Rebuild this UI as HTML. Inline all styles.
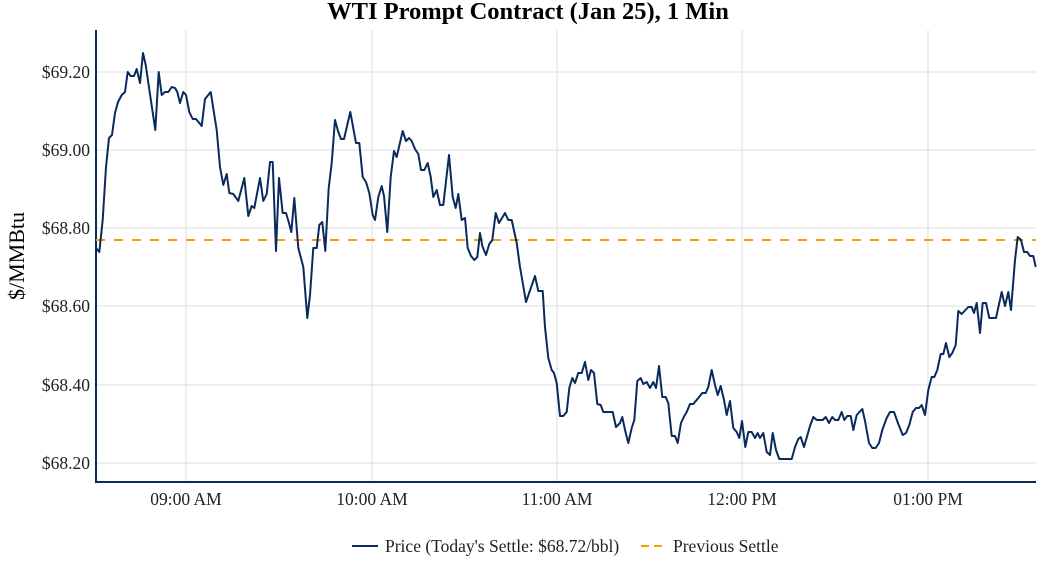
<!DOCTYPE html>
<html><head><meta charset="utf-8"><style>
html,body{margin:0;padding:0;background:#fff;}
svg{display:block;font-family:"Liberation Serif",serif;}
</style></head><body>
<svg width="1056" height="576" viewBox="0 0 1056 576">
<rect width="1056" height="576" fill="#fff"/>
<text x="528" y="19" text-anchor="middle" font-size="24.5" font-weight="bold" fill="#000">WTI Prompt Contract (Jan 25), 1 Min</text>
<g stroke="#dcdcdc" stroke-width="1">
<line x1="96" x2="1036" y1="72" y2="72"/><line x1="96" x2="1036" y1="150" y2="150"/>
<line x1="96" x2="1036" y1="228" y2="228"/><line x1="96" x2="1036" y1="306" y2="306"/>
<line x1="96" x2="1036" y1="385" y2="385"/><line x1="96" x2="1036" y1="463" y2="463"/>
<line x1="186" x2="186" y1="30" y2="482"/><line x1="372" x2="372" y1="30" y2="482"/>
<line x1="557" x2="557" y1="30" y2="482"/><line x1="742" x2="742" y1="30" y2="482"/>
<line x1="928" x2="928" y1="30" y2="482"/>
</g>
<line x1="96" x2="96" y1="30" y2="483" stroke="#0a2a5c" stroke-width="2"/>
<line x1="95" x2="1036" y1="482" y2="482" stroke="#0a2a5c" stroke-width="2"/>
<g font-size="17.5" fill="#222" text-anchor="end">
<text x="90" y="78">$69.20</text><text x="90" y="156">$69.00</text><text x="90" y="234">$68.80</text>
<text x="90" y="312">$68.60</text><text x="90" y="391">$68.40</text><text x="90" y="469">$68.20</text>
</g>
<g font-size="17.5" fill="#222" text-anchor="middle">
<text x="186" y="505">09:00 AM</text><text x="372" y="505">10:00 AM</text><text x="557" y="505">11:00 AM</text>
<text x="742" y="505">12:00 PM</text><text x="928" y="505">01:00 PM</text>
</g>
<text transform="translate(24,256) rotate(-90)" text-anchor="middle" font-size="22" fill="#000">$/MMBtu</text>
<line x1="96" x2="1036" y1="240" y2="240" stroke="#f5a000" stroke-width="2" stroke-dasharray="9,9"/>
<polyline fill="none" stroke="#0a2a5c" stroke-width="2" stroke-linejoin="round" points="96,248 99.3,252 102.7,220 106,167 109,138 112,135 115,113 118,102 121.7,95 125,92 127.7,72 130.7,76 134,76 136.7,69 140,83 143,53 145.7,65 155.3,130 158.7,72 161.7,95 165,92 168.3,92 171.7,87 175,88 177.3,92 180,103 183.3,92 186,95 189.3,112 192.7,119 196,119 201.7,126 205,99 210.7,92 216.7,130 220,167 223.3,185 226.7,174 229.3,193 233.3,194 238.3,201 244.3,178 248.3,216 251.7,206 254.3,208 260,178 263.3,201 266.7,194 270,162 272.7,162 276,251 279,178 282.7,213 286,213 288.7,222 291.3,232 294.3,198 298.3,248 303.3,267 307.3,318 310,295 313.3,248 316.7,248 319.3,225 322.3,222 325.3,251 328.7,188 331.7,163 335,120 338.3,132 341,139 344,139 350.3,112 356,143 359.3,143 362.7,177 366,182 369.3,193 372.7,215 375,220 378.3,197 381.7,186 384,196 387.3,232 390.7,177 394,151 396.7,157 402.7,131 406,141 409,138 411.7,141 415,149 418.3,154 421,170 424.3,170 427.7,163 430.7,177 433.3,197 436.7,190 440,205 443.3,205 449,155 452.7,197 455.7,208 458.3,194 461.7,220 465,218 467.7,248 471,256 474.3,260 477.3,257 480,233 482.3,246 486,255 489.3,244 492.3,240 495.7,213 499,223 505,213 508.3,220 511.7,220 516.7,243 520,267 526,302 535,276 538.3,291 542.7,291 545,327 548.3,358 551.7,370 554,373 556.7,383 560,416 563.3,416 566.7,412 569.3,388 572.3,378 575,383 578.3,373 581.7,373 585,362 588.3,380 591,370 594,373 597.3,404 600.7,405 603.3,412 612.7,412 616,427 620,423 622.3,417 625,430 628.3,443 631.7,428 634.3,420 637.3,381 640.7,378 643.3,384 646.7,382 650,388 653.3,382 656,388 659,366 662.3,397 665.7,397 668.3,403 671.7,436 675,436 677.7,443 681,423 684.3,416 686.7,412 690,404 693.3,404 698.3,398 702.3,393 705.7,393 708.3,387 711.7,370 715,385 717.7,395 720.7,386 724,400 726.7,415 730,401 733.3,428 736.7,432 739.3,438 742,421 745.3,447 748.3,432 751.7,432 755,438 757.7,433 760,438 763.3,433 766.7,452 770,455 772.7,433 776,450 779.3,459 791.7,459 795,447 798.3,439 800.7,437 804,447 810,426 813.3,417 816.7,420 822.7,420 825.7,417 829,423 832.3,417 835,420 838.3,420 841.7,412 844.3,420 847.3,416 850.7,416 853.3,430 856.7,415 862.3,409 865,421 869,443 872.3,448 875.7,448 879,443 882.3,430 886.7,418 890,412 894,412 898.3,424 902.7,435 906,433 909.3,425 912.7,412 916,408 919,408 921.7,405 925,415 928.3,390 931.7,377 934.3,377 937.3,370 940.7,354 943.3,354 946,343 949.3,357 952.3,353 955.7,345 958.3,311 961.7,314 968.3,307 971.7,307 974,313 976.7,303 980,333 982.7,303 986,303 989.3,318 996,318 1001.7,292 1005,306 1008.3,292 1011,310 1015,260 1017.7,237 1021,240 1024,252 1027.3,252 1030,256 1033.3,256 1035.7,267"/>
<line x1="352" x2="378" y1="546" y2="546" stroke="#0a2a5c" stroke-width="2"/>
<text x="385" y="552" font-size="17.5" fill="#222">Price (Today's Settle: $68.72/bbl)</text>
<line x1="641" x2="667" y1="546" y2="546" stroke="#f5a000" stroke-width="2" stroke-dasharray="8,5"/>
<text x="673" y="552" font-size="17.5" fill="#222">Previous Settle</text>
</svg>
</body></html>
